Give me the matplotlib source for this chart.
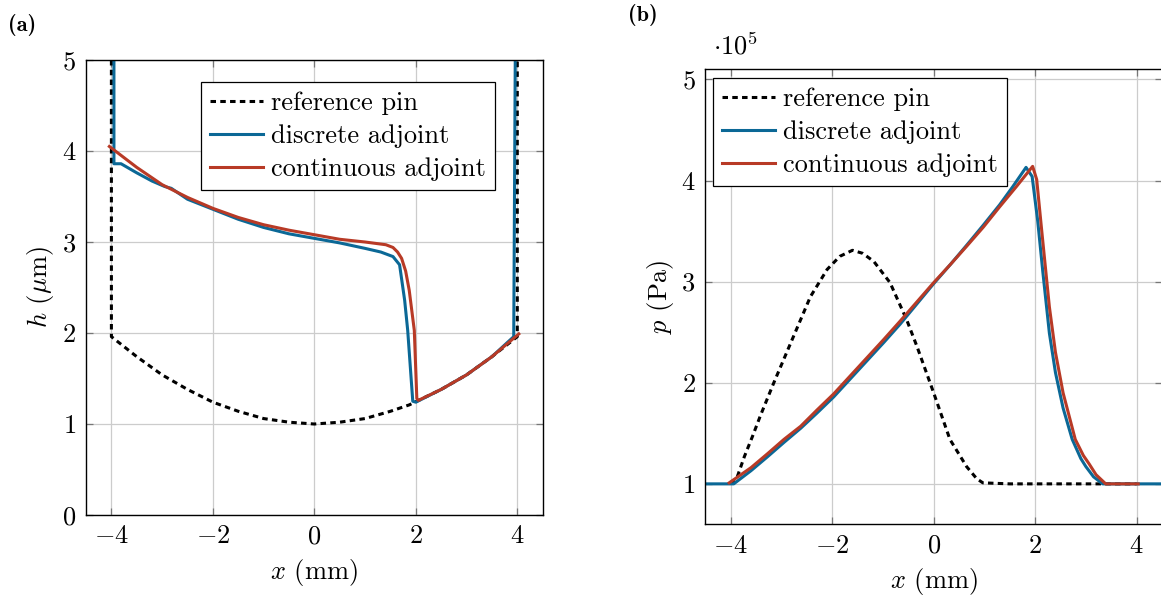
import numpy as np
import matplotlib
matplotlib.use("Agg")
import matplotlib.pyplot as plt

plt.rcParams['font.family'] = 'serif'
plt.rcParams['font.serif'] = ['cmr10', 'DejaVu Serif']
plt.rcParams['mathtext.fontset'] = 'cm'
plt.rcParams['axes.formatter.use_mathtext'] = True
plt.rcParams['font.size'] = 19

# ---- panel (a): film thickness h (um) vs x (mm)
x_ref_a = [-4.0, -4.0, -3.5, -3.0, -2.5, -2.0, -1.5, -1.0, -0.5, 0.0, 0.5, 1.0, 1.5, 1.87, 2.5, 3.0, 3.5, 4.0, 4.0]
h_ref_a = [5.0, 1.96, 1.74, 1.54, 1.38, 1.24, 1.14, 1.06, 1.02, 1.0, 1.02, 1.06, 1.14, 1.21, 1.38, 1.54, 1.74, 1.96, 5.0]

x_disc_a = [-3.95, -3.95, -3.81, -3.5, -3.2, -2.95, -2.82, -2.5, -2.0, -1.5, -1.0, -0.5, 0.0, 0.5, 1.0,
            1.31, 1.55, 1.68, 1.78, 1.84, 1.94, 2.0, 2.5, 3.0, 3.5, 3.93, 3.96]
h_disc_a = [5.0, 3.86, 3.86, 3.76, 3.67, 3.61, 3.59, 3.47, 3.36, 3.25, 3.16, 3.09, 3.04, 2.99, 2.93,
            2.89, 2.84, 2.75, 2.36, 2.03, 1.25, 1.24, 1.38, 1.54, 1.74, 1.96, 5.0]

x_cont_a = [-4.04, -3.5, -3.0, -2.5, -2.0, -1.5, -1.0, -0.5, 0.0, 0.5, 1.0, 1.41, 1.55, 1.64, 1.72,
            1.8, 1.87, 1.97, 2.02, 2.05, 2.5, 3.0, 3.5, 4.03]
h_cont_a = [4.05, 3.82, 3.63, 3.49, 3.37, 3.27, 3.19, 3.13, 3.08, 3.03, 3.0, 2.97, 2.94, 2.89, 2.82,
            2.68, 2.47, 2.03, 1.28, 1.26, 1.38, 1.54, 1.74, 1.99]

# ---- panel (b): pressure p (1e5 Pa) vs x (mm)
x_ref_b = [-4.0, -3.87, -3.73, -3.57, -3.41, -3.15, -2.82, -2.43, -2.1, -1.85, -1.6, -1.4, -1.18, -0.86,
           -0.53, -0.33, 0.0, 0.32, 0.65, 0.85, 0.97, 1.5, 2.5, 3.5, 4.0]
p_ref_b = [1.0, 1.07, 1.27, 1.47, 1.68, 2.0, 2.39, 2.85, 3.12, 3.25, 3.31, 3.28, 3.2, 2.99,
           2.62, 2.36, 1.90, 1.44, 1.17, 1.05, 1.01, 1.0, 1.0, 1.0, 1.0]

x_disc_b = [-4.5, -3.94, -3.6, -3.27, -2.95, -2.62, -2.3, -1.97, -1.64, -1.31, -0.98, -0.66, -0.33, 0.0,
            0.33, 0.65, 0.98, 1.3, 1.56, 1.82, 1.94, 2.05, 2.15, 2.28, 2.4, 2.55, 2.73, 2.9, 3.0,
            3.15, 3.33, 4.5]
p_disc_b = [1.0, 1.0, 1.13, 1.27, 1.41, 1.55, 1.70, 1.86, 2.04, 2.22, 2.40, 2.58, 2.78, 2.98,
            3.17, 3.36, 3.56, 3.76, 3.94, 4.13, 4.04, 3.6, 3.1, 2.49, 2.1, 1.75, 1.44, 1.25, 1.17,
            1.07, 1.0, 1.0]

x_cont_b = [-4.03, -3.6, -3.27, -2.95, -2.62, -2.3, -1.97, -1.64, -1.31, -0.98, -0.66, -0.33, 0.0,
            0.33, 0.65, 0.98, 1.3, 1.63, 1.95, 2.03, 2.12, 2.2, 2.28, 2.4, 2.55, 2.79, 2.95, 3.06,
            3.2, 3.39, 4.03]
p_cont_b = [1.01, 1.16, 1.30, 1.44, 1.57, 1.73, 1.89, 2.07, 2.25, 2.43, 2.61, 2.80, 2.99,
            3.17, 3.35, 3.54, 3.74, 3.94, 4.14, 4.01, 3.55, 3.15, 2.75, 2.3, 1.9, 1.44, 1.28, 1.2,
            1.09, 1.0, 1.0]

blue = '#0b6896'
red = '#b83a26'
lw = 2.2

fig = plt.figure(figsize=(11.61, 6.03), dpi=100)
ax1 = fig.add_axes([0.0741, 0.1459, 0.3933, 0.7546])
ax2 = fig.add_axes([0.6075, 0.1305, 0.3934, 0.7546])

for ax in (ax1, ax2):
    ax.grid(True, color='#cccccc', lw=0.9)
    ax.set_axisbelow(True)
    ax.tick_params(direction='in', top=True, right=True, length=5, width=0.9,
                   color='#777777', labelsize=19, pad=7)
    for s in ax.spines.values():
        s.set_linewidth(1.0)
    ax.set_xlim(-4.5, 4.5)
    ax.set_xticks([-4, -2, 0, 2, 4])
    ax.set_xlabel(r'$x$ (mm)', fontsize=19, labelpad=6)

ax1.plot(x_ref_a, h_ref_a, color='black', lw=lw, ls=(0, (1.8, 1.4)), label='reference pin')
ax1.plot(x_disc_a, h_disc_a, color=blue, lw=lw, label='discrete adjoint')
ax1.plot(x_cont_a, h_cont_a, color=red, lw=lw, label='continuous adjoint')
ax1.set_ylim(0, 5)
ax1.set_yticks([0, 1, 2, 3, 4, 5])
ax1.set_ylabel(r'$h$ ($\mu$m)', fontsize=19)

ax2.plot(x_ref_b, p_ref_b, color='black', lw=lw, ls=(0, (1.8, 1.4)), label='reference pin')
ax2.plot(x_disc_b, p_disc_b, color=blue, lw=lw, label='discrete adjoint')
ax2.plot(x_cont_b, p_cont_b, color=red, lw=lw, label='continuous adjoint')
ax2.set_ylim(0.6, 5.1)
ax2.set_yticks([1, 2, 3, 4, 5])
ax2.set_ylabel(r'$p$ (Pa)', fontsize=19)
ax2.text(0.017, 1.022, r'$\cdot10^5$', transform=ax2.transAxes, fontsize=19, va='bottom', ha='left')

leg_kw = dict(fancybox=False, edgecolor='black', framealpha=1, fontsize=19,
              handlelength=2.0, handletextpad=0.3, borderpad=0.35, labelspacing=0.35,
              borderaxespad=0)
l1 = ax1.legend(loc='upper right', bbox_to_anchor=(0.896, 0.952), **leg_kw)
l2 = ax2.legend(loc='upper left', bbox_to_anchor=(0.017, 0.981), **leg_kw)
for l in (l1, l2):
    l.get_frame().set_linewidth(0.9)

fig.text(8 / 1161, 1 - 25 / 603, '(a)', family='cmb10', fontsize=16, va='center', ha='left')
fig.text(628 / 1161, 1 - 15 / 603, '(b)', family='cmb10', fontsize=16, va='center', ha='left')

fig.savefig('out.png', dpi=100)
